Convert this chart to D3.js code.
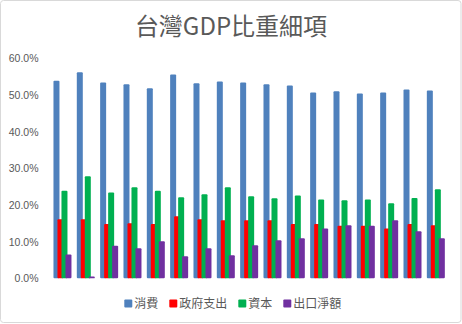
<!DOCTYPE html>
<html><head><meta charset="utf-8">
<script src="https://cdn.jsdelivr.net/npm/d3@7"></script>
<style>
html,body{margin:0;padding:0;background:#fff;}
svg{display:block;}
</style></head>
<body>
<svg id="chart" width="462" height="324"></svg>
<script>
const title = "台灣GDP比重細項";
const categories = ["1","2","3","4","5","6","7","8","9","10","11","12","13","14","15","16","17"];
const seriesNames = ["消費","政府支出","資本","出口淨額"];
const seriesColors = ["#4F81BD","#FF0000","#00B050","#7030A0"];
const consumption = [53.9,56.2,53.4,52.9,51.8,55.6,53.2,53.7,53.4,52.9,52.6,50.7,51.0,50.4,50.7,51.5,51.2];
const government  = [16.1,16.1,14.8,15.0,14.8,16.9,16.1,15.8,15.8,15.8,14.8,14.8,14.3,14.3,13.6,14.8,14.5];
const capital     = [23.9,27.8,23.4,24.8,23.9,22.1,22.9,24.8,22.4,21.8,22.6,21.5,21.3,21.5,20.5,21.9,24.3];
const netExports  = [6.5,0.5,8.9,8.2,10.1,6.0,8.2,6.3,9.0,10.4,10.9,13.6,14.5,14.3,15.8,12.8,10.9];
const yTicks = [0,10,20,30,40,50,60];

const seriesValues = [consumption, government, capital, netExports];

const svg = d3.select("#chart");
const textColor = "#595959";

// outer border
svg.append("rect").attr("x",0.5).attr("y",0.5).attr("width",460.5).attr("height",322)
  .attr("rx",3).attr("fill","#fff").attr("stroke","#d9d9d9").attr("stroke-width",1);

// title
svg.append("text").attr("x",231).attr("y",35).attr("text-anchor","middle")
  .attr("font-family","'Noto Sans CJK TC','Noto Sans',sans-serif").attr("font-size",24)
  .attr("fill",textColor).text(title);

const x = d3.scaleBand().domain(categories).range([50.8, 447.5]).padding(0);
const y = d3.scaleLinear().domain([0,60]).range([278.3, 58.3]);
const sub = d3.scaleLinear().domain([0,3]).range([-9,3]);
const barW = 6;

// y axis labels
const yAxis = d3.axisLeft(y).tickValues(yTicks).tickSize(0).tickPadding(0)
  .tickFormat(d => d.toFixed(1) + "%");
const yg = svg.append("g").attr("transform","translate(38.5,0)").call(yAxis);
yg.select(".domain").remove();
yg.selectAll("text").attr("font-family","'Liberation Sans',Arial,sans-serif")
  .attr("font-size",10.5).attr("fill",textColor);

// bars
seriesValues.forEach((vals, si) => {
  svg.append("g").selectAll("rect").data(vals).join("rect")
    .attr("x",(d,i) => x(categories[i]) + x.bandwidth()/2 + sub(si))
    .attr("y",d => y(d))
    .attr("width",barW)
    .attr("height",d => y(0) - y(d))
    .attr("rx",1)
    .attr("fill",seriesColors[si]);
});

// legend
const legendX = [124.3, 169.3, 238.3, 283.3];
const lg = svg.append("g");
seriesNames.forEach((name, i) => {
  lg.append("rect").attr("x",legendX[i]).attr("y",299.5).attr("width",8).attr("height",8)
    .attr("rx",1).attr("fill",seriesColors[i]);
  lg.append("text").attr("x",legendX[i]+10).attr("y",307.5)
    .attr("font-family","'Noto Sans CJK TC','Noto Sans',sans-serif").attr("font-size",12)
    .attr("fill",textColor).text(name);
});
</script>
</body></html>
